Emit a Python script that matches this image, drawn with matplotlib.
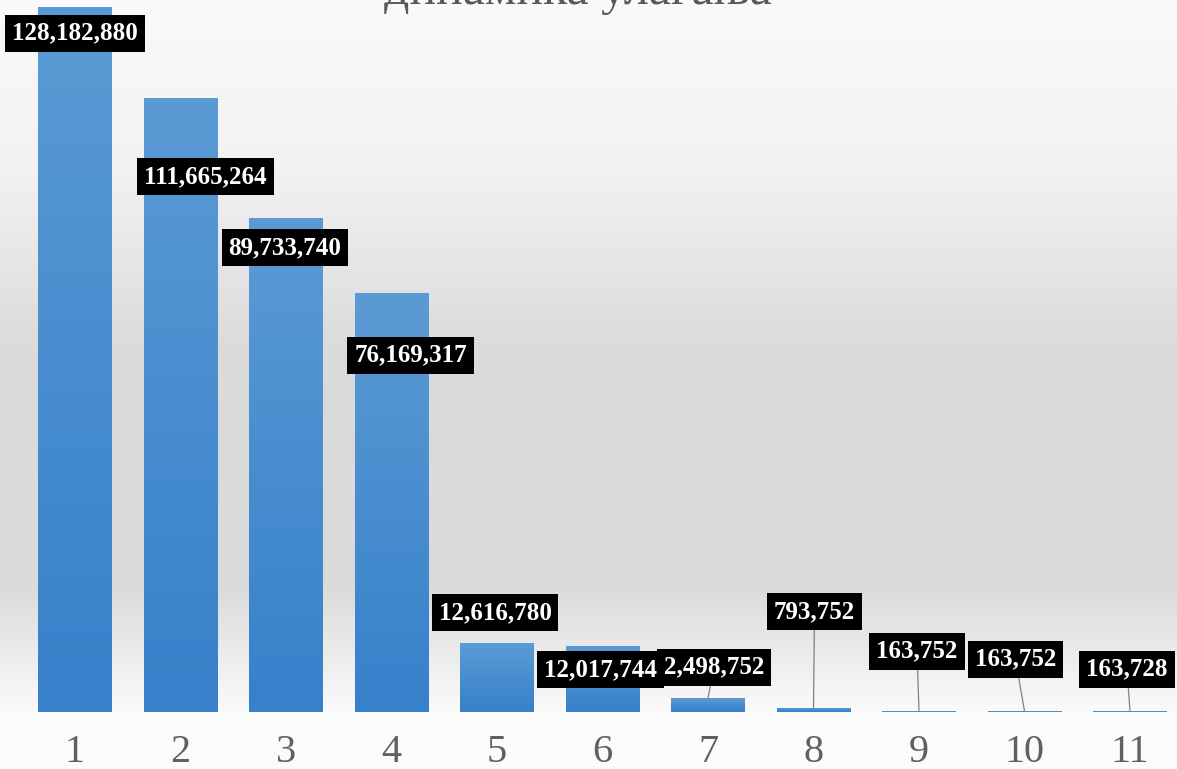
import numpy as np
import matplotlib.pyplot as plt
from matplotlib.colors import LinearSegmentedColormap

# Chart data
categories = ['1', '2', '3', '4', '5', '6', '7', '8', '9', '10', '11']
investments = [128182880, 111665264, 89733740, 76169317, 12616780, 12017744,
               2498752, 793752, 163752, 163752, 163728]
title = 'динамика улагања'

# Label placement relative to the bar top (pixels), as dragged in the original
label_offsets = [(0, -26), (25, -79), (-1, -29), (19, -62), (-2, 30), (-2, -24),
                 (6, 31), (1, 96), (-2, 60), (-9, 52), (-3, 42)]
with_leader = [False] * 6 + [True] * 5

serif = ['Liberation Serif', 'DejaVu Serif']

fig = plt.figure(figsize=(11.77, 7.69), dpi=100)

# Background gradient (white at the top, grey in the middle, light at the bottom)
bg = fig.add_axes([0, 0, 1, 1], zorder=0)
bg_cmap = LinearSegmentedColormap.from_list(
    'bg', [(0.0, '#fbfbfb'), (0.07, '#fbfbfb'), (0.24, '#dadada'),
           (0.55, '#dbdbdb'), (0.78, '#f2f2f2'), (1.0, '#fafafa')])
bg.imshow(np.linspace(1, 0, 256).reshape(-1, 1), aspect='auto', cmap=bg_cmap,
          extent=(0, 1, 0, 1))
bg.set_axis_off()

ax = fig.add_axes([0, 57 / 769, 1, 712 / 769], zorder=1)
ax.patch.set_alpha(0)

x = np.arange(1, len(categories) + 1)
bars = ax.bar(x, investments, width=0.70, color='#4a8ad0', zorder=2)

# vertical gradient on each bar
bar_cmap = LinearSegmentedColormap.from_list('bar', ['#3780ca', '#5b9bd5'])
grad = np.linspace(0, 1, 128).reshape(-1, 1)
for b in bars:
    im = ax.imshow(grad, aspect='auto', cmap=bar_cmap, origin='lower',
                   extent=(b.get_x(), b.get_x() + b.get_width(), 0, b.get_height()),
                   zorder=3)
    im.set_clip_path(b)

ax.set_xlim(1 - 75 / 105.5, 11 + 47 / 105.5)
ax.set_ylim(0, investments[0] * 712 / 705)

for xi, val, off, lead in zip(x, investments, label_offsets, with_leader):
    arrow = dict(arrowstyle='-', color='#808080', lw=0.9, shrinkA=0, shrinkB=0) if lead else None
    ax.annotate(f'{val:,}', xy=(xi, val), xytext=off, textcoords='offset pixels',
                ha='center', va='center', fontsize=18, fontweight='bold',
                family=serif, color='white', zorder=6,
                bbox=dict(boxstyle='square,pad=0.28', fc='black', ec='none'),
                arrowprops=arrow)

ax.set_xticks(x)
ax.set_xticklabels(categories, family=serif, fontsize=29, color='#606060')
ax.tick_params(axis='x', length=0, pad=16)
ax.set_yticks([])
for s in ax.spines.values():
    s.set_visible(False)

fig.text(578 / 1177, 1 - 4 / 769, title, ha='center', va='baseline',
         family=serif, fontsize=36, color='#595959')

fig.savefig('out.png', dpi=100)
